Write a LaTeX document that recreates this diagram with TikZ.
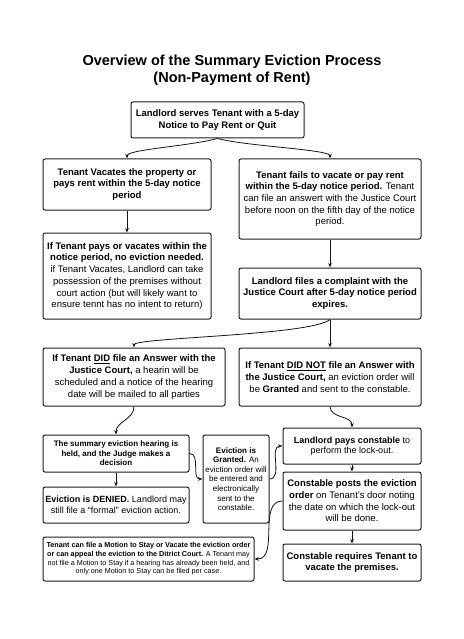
\documentclass[tikz,border=0pt]{standalone}
\usepackage{fontspec}
\setmainfont{Liberation Sans}
\usetikzlibrary{arrows.meta}
\definecolor{boxline}{RGB}{30, 30, 30}
\definecolor{flowblack}{RGB}{20, 20, 20}

\begin{document}
\begin{tikzpicture}[
        x=1pt, y=-1pt,
        step box/.style={rectangle, rounded corners=2pt, draw=boxline, line width=1pt, fill=white, align=center, inner sep=2pt, font=\fontsize{9.5}{11.7}\selectfont},
        mid box/.style={step box, font=\fontsize{9}{10.6}\selectfont},
        small box/.style={step box, font=\fontsize{8}{9.6}\selectfont},
        tiny box/.style={step box, font=\fontsize{7.2}{8.7}\selectfont},
        flow/.style={-{Stealth[length=4.5pt, width=3.5pt]}, line width=0.8pt, color=flowblack}
    ]
    \useasboundingbox (0,0) rectangle (463,639);
    \fill[white] (0,0) rectangle (463,639);

    % Title
    \node[align=center, font=\fontsize{14.5}{17}\selectfont\bfseries] (title) at (232, 70) {Overview of the Summary Eviction Process\\(Non-Payment of Rent)};

    % Notice
    \node[step box, minimum width=173, minimum height=36] (serve) at (217.5, 120) {\textbf{Landlord serves Tenant with a 5-day}\\\textbf{Notice to Pay Rent or Quit}};

    % Left branch
    \node[step box, minimum width=168, minimum height=51] (vacate) at (127, 184.5) {\textbf{Tenant Vacates the property or}\\\textbf{pays rent within the 5-day notice}\\\textbf{period}};
    \node[step box, minimum width=168, minimum height=86] (paid) at (127, 276) {\textbf{If Tenant pays or vacates within the}\\\textbf{notice period, no eviction needed.}\\if Tenant Vacates, Landlord can take\\possession of the premises without\\court action (but will likely want to\\ensure tennt has no intent to return)};

    % Right branch
    \node[step box, minimum width=182, minimum height=80] (fails) at (330, 199) {\textbf{Tenant fails to vacate or pay rent}\\\textbf{within the 5-day notice period.} Tenant\\can file an answert with the Justice Court\\before noon on the fifth day of the notice\\period.};
    \node[step box, minimum width=182, minimum height=51] (complaint) at (330, 293.5) {\textbf{Landlord files a complaint with the}\\\textbf{Justice Court after 5-day notice period}\\\textbf{expires.}};

    % Answer or not
    \node[step box, minimum width=182, minimum height=58] (answered) at (134, 377) {\textbf{If Tenant \underline{DID} file an Answer with the}\\\textbf{Justice Court,} a hearin will be\\scheduled and a notice of the hearing\\date will be mailed to all parties};
    \node[step box, minimum width=182, minimum height=58] (noanswer) at (330, 377) {\textbf{If Tenant \underline{DID NOT} file an Answer with}\\\textbf{the Justice Court,} an eviction order will\\be \textbf{Granted} and sent to the constable.};

    % Hearing
    \node[small box, minimum width=146, minimum height=37] (hearing) at (116, 453.5) {\textbf{The summary eviction hearing is}\\\textbf{held, and the Judge makes a}\\\textbf{decision}};
    \node[mid box, minimum width=146, minimum height=36] (denied) at (116, 505) {\textbf{Eviction is DENIED.} Landlord may\\still file a \textquotedblleft formal\textquotedblright{} eviction action.};
    \node[small box, minimum width=66, minimum height=88] (granted) at (236, 479) {\textbf{Eviction is}\\\textbf{Granted.} An\\eviction order will\\be entered and\\electronically\\sent to the\\constable.};
    \node[tiny box, minimum width=211, minimum height=44] (motion) at (148.5, 559) {\textbf{Tenant can file a Motion to Stay or Vacate the eviction order}\\\textbf{or can appeal the eviction to the Ditrict Court.} A Tenant may\\not file a Motion to Stay if a hearing has already been held, and\\only one Motion to Stay can be filed per case.};

    % Lock-out
    \node[mid box, minimum width=138, minimum height=36] (pays) at (352, 446) {\textbf{Landlord pays constable} to\\perform the lock-out.};
    \node[step box, minimum width=138, minimum height=58] (posts) at (352, 501) {\textbf{Constable posts the eviction}\\\textbf{order} on Tenant's door noting\\the date on which the lock-out\\will be done.};
    \node[step box, minimum width=138, minimum height=37] (requires) at (352, 562.5) {\textbf{Constable requires Tenant to}\\\textbf{vacate the premises.}};

    % Flows
    \draw[flow] (serve.south) to[out=-165, in=90, out distance=30pt, in distance=9pt] (vacate.north);
    \draw[flow] (serve.south) to[out=-15, in=90, out distance=30pt, in distance=9pt] (fails.north);
    \draw[flow] (vacate) -- (paid);
    \draw[flow] (fails) -- (complaint);
    \draw[flow] (complaint.south) to[out=-140, in=90, out distance=25pt, in distance=10pt] (answered.north);
    \draw[flow] (complaint) -- (noanswer);
    \draw[flow] (answered.south) to[out=-90, in=90] (hearing.north);
    \draw[flow] (noanswer.south) to[out=-90, in=90] (pays.north);
    \draw[flow] (hearing) -- (denied);
    \draw[flow] (hearing.east) to[out=0, in=180] (granted.west);
    \draw[flow] (granted.east) to[out=0, in=180] (pays.west);
    \draw[flow] (pays) -- (posts);
    \draw[flow] (posts) -- (requires);
    \draw[flow] (posts.west) to[out=180, in=0] (motion.east);

\end{tikzpicture}
\end{document}
